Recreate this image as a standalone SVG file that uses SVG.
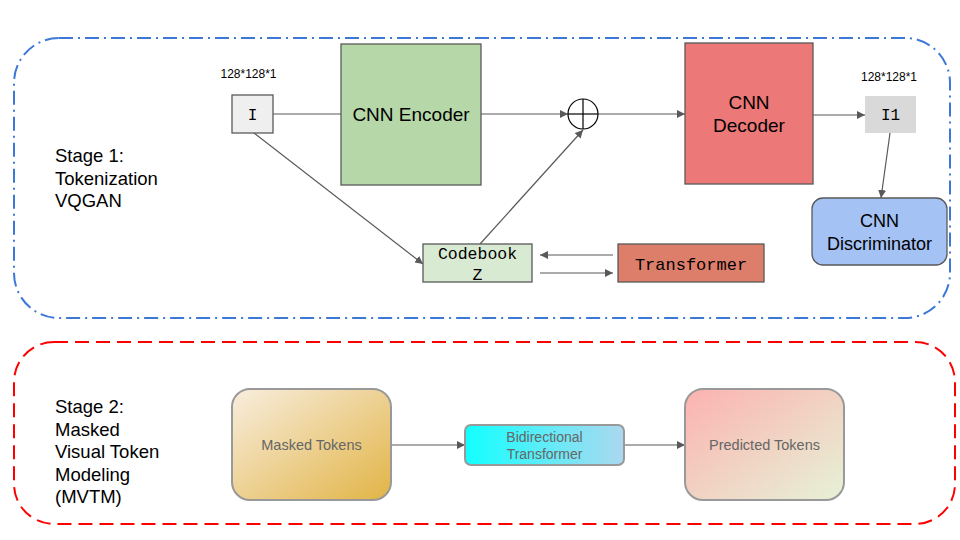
<svg xmlns="http://www.w3.org/2000/svg" width="960" height="540" viewBox="0 0 960 540">
<style>
.sans{font-family:"Liberation Sans",Arial,sans-serif;fill:#000}
.mono{font-family:"Liberation Mono","DejaVu Sans Mono",monospace;fill:#000}
.gray{font-family:"Liberation Sans",Arial,sans-serif;fill:#666}
.ln{stroke:#595959;stroke-width:1.2;fill:none}
.box{stroke:#595959;stroke-width:1.3}
.soft{stroke:#999;stroke-width:2}
</style>
<defs>
<marker id="ah" viewBox="0 0 10 10" refX="10" refY="5" markerWidth="8" markerHeight="8" markerUnits="userSpaceOnUse" orient="auto"><path d="M0,0 L10,5 L0,10 z" fill="#595959"/></marker>
<linearGradient id="gMasked" x1="0" y1="0" x2="1" y2="1"><stop offset="0" stop-color="#f8eedf"/><stop offset="1" stop-color="#e2b446"/></linearGradient>
<linearGradient id="gBi" x1="0" y1="0" x2="1" y2="0"><stop offset="0" stop-color="#12ffff"/><stop offset="1" stop-color="#acd8ef"/></linearGradient>
<linearGradient id="gPred" x1="0" y1="0" x2="1" y2="1"><stop offset="0" stop-color="#fcb2b0"/><stop offset="1" stop-color="#e6f2d6"/></linearGradient>
</defs>
<g id="stage1">
<rect x="14" y="38" width="936" height="280" rx="45" fill="none" stroke="#3c78d8" stroke-width="2" stroke-dasharray="14,5,2,5"/>
<text class="sans" font-size="18.5"><tspan x="55" y="162">Stage 1:</tspan><tspan x="55" y="185">Tokenization</tspan><tspan x="55" y="207">VQGAN</tspan></text>
</g>
<g id="stage2">
<rect x="14" y="342" width="941" height="182" rx="40" fill="none" stroke="#ff0000" stroke-width="2" stroke-dasharray="14,7"/>
<text class="sans" font-size="18.5"><tspan x="55" y="413">Stage 2:</tspan><tspan x="55" y="436">Masked</tspan><tspan x="55" y="458">Visual Token</tspan><tspan x="55" y="481">Modeling</tspan><tspan x="55" y="503">(MVTM)</tspan></text>
</g>
<g id="connectors">
<line class="ln" x1="273" y1="114" x2="341" y2="114"/>
<line class="ln" x1="481" y1="114" x2="568" y2="114" marker-end="url(#ah)"/>
<line class="ln" x1="598" y1="114" x2="685" y2="114" marker-end="url(#ah)"/>
<line class="ln" x1="813" y1="115" x2="865" y2="115" marker-end="url(#ah)"/>
<line class="ln" x1="890" y1="133" x2="881" y2="198" marker-end="url(#ah)"/>
<line class="ln" x1="254" y1="133" x2="423" y2="264" marker-end="url(#ah)"/>
<line class="ln" x1="480" y1="244" x2="583" y2="130" marker-end="url(#ah)"/>
<line class="ln" x1="613" y1="255" x2="540" y2="255" marker-end="url(#ah)"/>
<line class="ln" x1="540" y1="273" x2="613" y2="273" marker-end="url(#ah)"/>
<line class="ln" x1="391" y1="445" x2="465" y2="445" marker-end="url(#ah)"/>
<line class="ln" x1="624" y1="445" x2="685" y2="445" marker-end="url(#ah)"/>
</g>
<g id="label-in">
<text class="sans" x="248.5" y="78" font-size="12" text-anchor="middle">128*128*1</text>
</g>
<g id="node-I">
<rect class="box" x="232" y="95" width="41" height="38" fill="#efefef"/>
<text class="mono" x="252.5" y="120" font-size="16" text-anchor="middle">I</text>
</g>
<g id="node-encoder">
<rect class="box" x="341" y="44" width="140" height="141" fill="#b6d7a8"/>
<text class="sans" x="411" y="121" font-size="19" text-anchor="middle">CNN Encoder</text>
</g>
<g id="node-plus">
<circle cx="583" cy="114" r="15" fill="#fff" stroke="#000" stroke-width="1.2"/>
<line x1="568" y1="114" x2="598" y2="114" stroke="#000" stroke-width="1.2"/>
<line x1="583" y1="99" x2="583" y2="129" stroke="#000" stroke-width="1.2"/>
</g>
<g id="node-decoder">
<rect class="box" x="685" y="43" width="128" height="141" fill="#ed7878"/>
<text class="sans" font-size="19" text-anchor="middle"><tspan x="749" y="109">CNN</tspan><tspan x="749" y="132">Decoder</tspan></text>
</g>
<g id="label-out">
<text class="sans" x="889" y="81" font-size="12" text-anchor="middle">128*128*1</text>
</g>
<g id="node-I1">
<rect x="865" y="96" width="51" height="37" fill="#d9d9d9"/>
<text class="mono" x="890.5" y="120" font-size="16" text-anchor="middle">I1</text>
</g>
<g id="node-disc">
<rect class="box" x="812" y="198" width="135" height="67" rx="11" fill="#a4c2f4"/>
<text class="sans" font-size="18" text-anchor="middle"><tspan x="879.5" y="227">CNN</tspan><tspan x="879.5" y="250">Discriminator</tspan></text>
</g>
<g id="node-codebook">
<rect class="box" x="423" y="244" width="109" height="38" fill="#d9ead3"/>
<text class="mono" font-size="16.5" text-anchor="middle"><tspan x="477.5" y="259">Codebook</tspan><tspan x="477.5" y="280">Z</tspan></text>
</g>
<g id="node-transformer">
<rect class="box" x="618" y="244" width="146" height="38" fill="#dd7e6b"/>
<text class="mono" x="691" y="270" font-size="17" text-anchor="middle">Transformer</text>
</g>
<g id="node-masked">
<rect class="soft" x="232" y="389" width="159" height="111" rx="18" fill="url(#gMasked)"/>
<text class="gray" x="311.5" y="450" font-size="14.5" text-anchor="middle">Masked Tokens</text>
</g>
<g id="node-bidir">
<rect class="soft" x="465" y="425" width="159" height="40" rx="6" fill="url(#gBi)"/>
<text class="gray" font-size="14" text-anchor="middle"><tspan x="544.5" y="442">Bidirectional</tspan><tspan x="544.5" y="459">Transformer</tspan></text>
</g>
<g id="node-pred">
<rect class="soft" x="685" y="389" width="159" height="111" rx="18" fill="url(#gPred)"/>
<text class="gray" x="764.5" y="450" font-size="14.5" text-anchor="middle">Predicted Tokens</text>
</g>
</svg>
